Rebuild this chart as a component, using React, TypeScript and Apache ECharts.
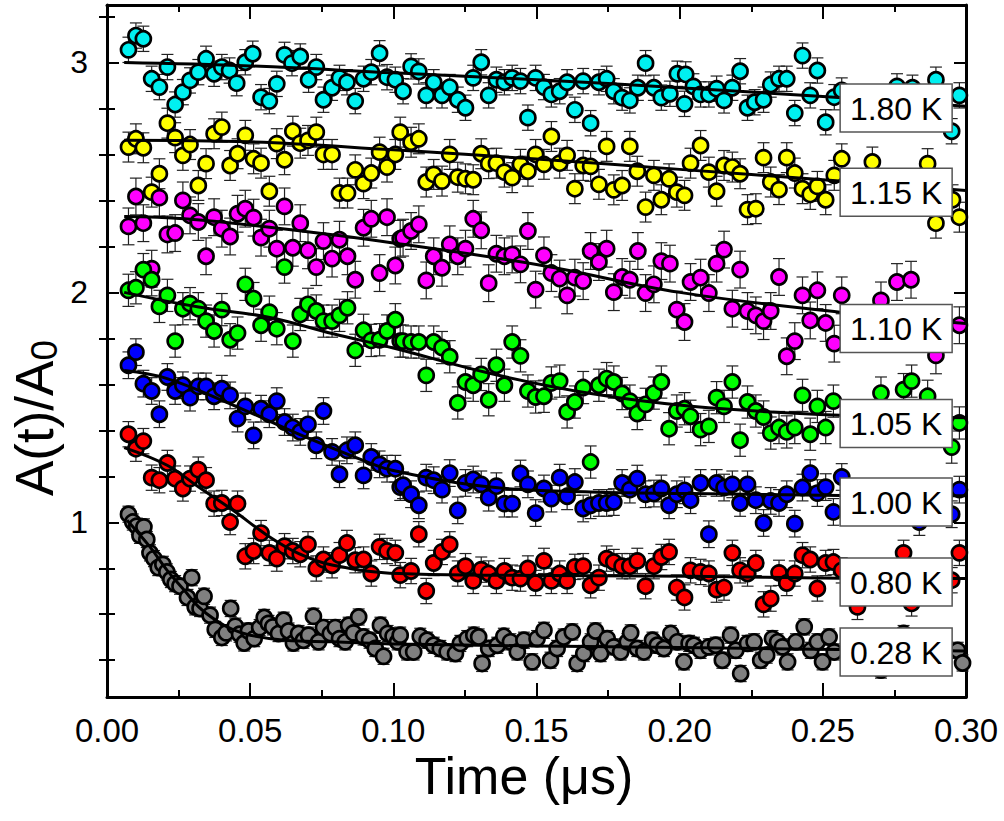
import React, { useEffect, useRef } from "react";
import * as echarts from "echarts";

const FONT = "'Liberation Sans', Arial, Helvetica, sans-serif";

const xMin = 0;
const xMax = 0.3;
const xInterval = 0.05;
const yMin = 0.24;
const yMax = 3.25;
const yMajorTicks = [1, 2, 3];
const yMinorTicks = [0.4, 0.6, 0.8, 1.2, 1.4, 1.6, 1.8, 2.2, 2.4, 2.6, 2.8, 3.2];

const temps = ["1.80 K", "1.15 K", "1.10 K", "1.05 K", "1.00 K", "0.80 K", "0.28 K"];
const colors = ["#00F0F0", "#FFFF00", "#FF00FF", "#00FF00", "#0000FF", "#FF0000", "#808080"];
const errors = [0.055, 0.065, 0.08, 0.07, 0.058, 0.055, 0.035];
const labelX = 0.2756;
const labelY = [2.802, 2.436, 1.843, 1.43, 1.088, 0.74, 0.436];

const pts180 = [
  [0.0075, 3.055], [0.0101, 3.117], [0.0127, 3.103], [0.0156, 2.929], [0.0183, 2.893], [0.0211, 2.98], [0.0238, 2.817], [0.0265, 2.871], [0.029, 2.922], [0.0319, 2.958], [0.0346, 3.016], [0.0374, 2.951], [0.0401, 2.98], [0.0428, 2.965], [0.0453, 2.91], [0.0483, 3.001], [0.0509, 3.038], [0.0538, 2.849], [0.0567, 2.832], [0.0593, 2.907], [0.062, 3.033], [0.0646, 2.997], [0.0675, 3.026], [0.0704, 2.925], [0.0731, 2.98], [0.0756, 2.838], [0.0786, 2.89], [0.0812, 2.933], [0.0838, 2.914], [0.0867, 2.832], [0.0896, 2.929], [0.0923, 2.958], [0.0952, 3.04], [0.0978, 2.936], [0.1007, 2.925],
  [0.1034, 2.875], [0.1062, 2.983], [0.1089, 2.961], [0.1115, 2.857], [0.1141, 2.914], [0.117, 2.857], [0.1197, 2.893], [0.1225, 2.838], [0.1252, 2.803], [0.1279, 2.933], [0.1307, 3.001], [0.1333, 2.857], [0.136, 2.925], [0.1388, 2.914], [0.1415, 2.933], [0.1444, 2.919], [0.147, 2.76], [0.1497, 2.933], [0.1526, 2.893], [0.1552, 2.861], [0.1581, 2.875], [0.1607, 2.914], [0.1634, 2.794], [0.1663, 2.919], [0.1689, 2.736], [0.1718, 2.914], [0.1745, 2.929], [0.177, 2.875], [0.1799, 2.847], [0.1826, 2.835], [0.1854, 2.89], [0.1881, 2.997], [0.191, 2.89], [0.1936, 2.847], [0.1966, 2.864], [0.1992, 2.951], [0.2017, 2.82],
  [0.2021, 2.948], [0.2048, 2.896], [0.2073, 2.861], [0.2102, 2.861], [0.2129, 2.886], [0.2155, 2.835], [0.2184, 2.89], [0.2211, 2.962], [0.2237, 2.803], [0.2262, 2.827], [0.2293, 2.838], [0.2318, 2.904], [0.2347, 2.929], [0.2374, 2.929], [0.2402, 2.78], [0.2429, 3.03], [0.2456, 2.857], [0.2481, 2.965], [0.251, 2.74], [0.254, 2.849], [0.2566, 2.878], [0.2759, 2.896], [0.2813, 2.89], [0.2895, 2.925], [0.295, 2.701], [0.2977, 2.857],
];

const pts115 = [
  [0.0075, 2.632], [0.0101, 2.668], [0.0127, 2.629], [0.0156, 2.436], [0.0183, 2.516], [0.0211, 2.736], [0.0238, 2.673], [0.0265, 2.596], [0.029, 2.643], [0.0319, 2.465], [0.0346, 2.56], [0.0374, 2.69], [0.0401, 2.719], [0.043, 2.552], [0.0456, 2.603], [0.0483, 2.683], [0.0512, 2.581], [0.0538, 2.562], [0.0567, 2.44], [0.0593, 2.647], [0.062, 2.577], [0.0649, 2.701], [0.0675, 2.649], [0.0702, 2.661], [0.0731, 2.697], [0.0756, 2.6], [0.0786, 2.6], [0.0812, 2.432], [0.084, 2.432], [0.0867, 2.533], [0.0896, 2.473], [0.0923, 2.519], [0.0952, 2.61], [0.0978, 2.545], [0.1007, 2.6], [0.1024, 2.697],
  [0.1062, 2.653], [0.1089, 2.668], [0.1115, 2.48], [0.1141, 2.513], [0.117, 2.484], [0.1197, 2.6], [0.1225, 2.501], [0.1252, 2.494], [0.1279, 2.49], [0.1307, 2.603], [0.1333, 2.56], [0.136, 2.562], [0.1388, 2.523], [0.1415, 2.499], [0.1444, 2.557], [0.147, 2.527], [0.1497, 2.6], [0.1526, 2.557], [0.1552, 2.678], [0.1581, 2.562], [0.1607, 2.596], [0.1634, 2.451], [0.1663, 2.552], [0.1689, 2.548], [0.1718, 2.47], [0.1745, 2.635], [0.177, 2.446], [0.1799, 2.465], [0.1826, 2.635], [0.1852, 2.527], [0.1881, 2.371], [0.191, 2.509], [0.1936, 2.403], [0.1963, 2.494], [0.199, 2.436], [0.2017, 2.422], [0.2038, 2.562],
  [0.2073, 2.639], [0.2102, 2.523], [0.2129, 2.44], [0.2155, 2.552], [0.2184, 2.545], [0.2211, 2.516], [0.2237, 2.36], [0.2266, 2.364], [0.2293, 2.586], [0.2318, 2.48], [0.2347, 2.447], [0.2374, 2.586], [0.2402, 2.519], [0.2429, 2.451], [0.2456, 2.426], [0.2481, 2.461], [0.251, 2.403], [0.254, 2.509], [0.2566, 2.581], [0.2673, 2.567], [0.2866, 2.56], [0.2895, 2.301], [0.2953, 2.403], [0.2977, 2.327],
];

const pts110 = [
  [0.0075, 2.287], [0.0101, 2.417], [0.0127, 2.301], [0.0156, 2.103], [0.0183, 2.412], [0.0211, 2.252], [0.0238, 2.258], [0.0265, 2.4], [0.029, 2.335], [0.0319, 2.306], [0.0346, 2.157], [0.0374, 2.327], [0.0401, 2.277], [0.043, 2.243], [0.0456, 2.342], [0.0483, 2.364], [0.0512, 2.325], [0.0538, 2.238], [0.0567, 2.277], [0.0593, 2.19], [0.062, 2.374], [0.0649, 2.194], [0.0675, 2.301], [0.0702, 2.183], [0.0731, 2.11], [0.0756, 2.223], [0.0786, 2.147], [0.0812, 2.229], [0.084, 2.157], [0.0867, 2.055], [0.0896, 2.281], [0.0923, 2.32], [0.0952, 2.084], [0.0978, 2.327], [0.1007, 2.117], [0.1024, 2.233],
  [0.1034, 2.238], [0.1062, 2.267], [0.1089, 2.296], [0.1115, 2.052], [0.1141, 2.157], [0.117, 2.107], [0.1197, 2.209], [0.1225, 2.157], [0.1252, 2.19], [0.1279, 2.32], [0.1307, 2.27], [0.1333, 2.04], [0.136, 2.168], [0.1388, 2.157], [0.1415, 2.165], [0.1444, 2.122], [0.147, 2.267], [0.1497, 2.012], [0.1526, 2.161], [0.1552, 2.084], [0.1581, 2.06], [0.1607, 1.987], [0.1634, 2.064], [0.1663, 2.049], [0.1689, 2.18], [0.1718, 2.132], [0.1745, 2.19], [0.177, 2.001], [0.1799, 2.067], [0.1826, 2.055], [0.1854, 2.18], [0.1881, 1.997], [0.191, 2.035], [0.1936, 2.136], [0.1966, 2.125], [0.199, 1.925], [0.2017, 1.871], [0.2038, 2.045],
  [0.2073, 2.064], [0.2102, 1.997], [0.2129, 2.125], [0.2155, 2.186], [0.2184, 1.929], [0.2211, 2.099], [0.2237, 1.919], [0.2266, 1.9], [0.2293, 1.875], [0.2318, 1.919], [0.2347, 2.067], [0.2374, 1.722], [0.2402, 1.788], [0.2429, 1.987], [0.2456, 1.878], [0.2481, 2.009], [0.251, 1.867], [0.254, 1.777], [0.2566, 1.987], [0.2703, 1.965], [0.2759, 2.045], [0.2808, 2.055], [0.2895, 1.726], [0.2977, 1.857],
];

const pts105 = [
  [0.0075, 2.009], [0.0101, 2.02], [0.0127, 2.099], [0.0156, 2.055], [0.0183, 1.939], [0.0211, 1.987], [0.0238, 1.788], [0.0265, 1.929], [0.029, 1.951], [0.0319, 1.929], [0.0346, 1.875], [0.0374, 1.832], [0.0401, 1.925], [0.043, 1.794], [0.0456, 1.823], [0.0483, 2.035], [0.0512, 1.973], [0.0538, 1.857], [0.0567, 1.914], [0.0593, 1.842], [0.062, 2.11], [0.0649, 1.788], [0.0675, 1.904], [0.0702, 1.948], [0.0731, 1.919], [0.0756, 1.875], [0.0786, 1.875], [0.0812, 1.9], [0.084, 1.933], [0.0867, 1.748], [0.0896, 1.835], [0.0923, 1.791], [0.0952, 1.794], [0.0978, 1.832], [0.1007, 1.881], [0.1024, 1.788],
  [0.1034, 1.788], [0.1062, 1.784], [0.1089, 1.784], [0.1115, 1.639], [0.1141, 1.784], [0.117, 1.76], [0.1197, 1.72], [0.1225, 1.519], [0.1252, 1.61], [0.1279, 1.596], [0.1307, 1.643], [0.1333, 1.533], [0.136, 1.683], [0.1388, 1.596], [0.1415, 1.784], [0.1444, 1.724], [0.147, 1.571], [0.1497, 1.545], [0.1526, 1.548], [0.1552, 1.606], [0.1581, 1.614], [0.1607, 1.48], [0.1634, 1.523], [0.1663, 1.586], [0.1689, 1.262], [0.1718, 1.596], [0.1745, 1.625], [0.177, 1.61], [0.1799, 1.56], [0.1826, 1.527], [0.1852, 1.473], [0.1881, 1.513], [0.191, 1.562], [0.1936, 1.61], [0.1963, 1.407], [0.199, 1.484], [0.2017, 1.494], [0.2038, 1.461],
  [0.2073, 1.403], [0.2102, 1.417], [0.2129, 1.542], [0.2155, 1.504], [0.2184, 1.61], [0.2211, 1.357], [0.2237, 1.523], [0.2266, 1.484], [0.2293, 1.458], [0.2318, 1.388], [0.2347, 1.412], [0.2374, 1.393], [0.2402, 1.412], [0.2429, 1.552], [0.2456, 1.383], [0.2481, 1.504], [0.251, 1.412], [0.2537, 1.527], [0.2703, 1.562], [0.2782, 1.577], [0.281, 1.614], [0.2866, 1.548], [0.295, 1.327], [0.2977, 1.432],
];

const pts100 = [
  [0.0075, 1.683], [0.0101, 1.74], [0.0127, 1.603], [0.0156, 1.571], [0.0183, 1.47], [0.0211, 1.632], [0.0238, 1.571], [0.0265, 1.596], [0.029, 1.542], [0.0319, 1.591], [0.0346, 1.591], [0.0374, 1.548], [0.0401, 1.581], [0.043, 1.552], [0.0456, 1.451], [0.0483, 1.504], [0.0512, 1.378], [0.0538, 1.494], [0.0567, 1.47], [0.0593, 1.527], [0.062, 1.436], [0.0649, 1.412], [0.0675, 1.393], [0.0702, 1.426], [0.0731, 1.335], [0.0756, 1.484], [0.0786, 1.306], [0.0812, 1.209], [0.0838, 1.313], [0.0867, 1.335], [0.0896, 1.204], [0.0923, 1.284], [0.0952, 1.252], [0.0978, 1.233], [0.1007, 1.233], [0.1024, 1.153],
  [0.1034, 1.161], [0.1062, 1.122], [0.1089, 1.074], [0.1115, 1.194], [0.1141, 1.183], [0.117, 1.142], [0.1197, 1.214], [0.1225, 1.052], [0.1252, 1.171], [0.1279, 1.186], [0.1307, 1.165], [0.1333, 1.107], [0.136, 1.157], [0.1388, 1.081], [0.1415, 1.081], [0.1444, 1.212], [0.147, 1.165], [0.1497, 1.04], [0.1526, 1.147], [0.1552, 1.103], [0.1581, 1.194], [0.1607, 1.113], [0.1634, 1.175], [0.1663, 1.06], [0.1689, 1.074], [0.1718, 1.084], [0.1745, 1.084], [0.177, 1.088], [0.1799, 1.171], [0.1826, 1.142], [0.1852, 1.19], [0.1881, 1.122], [0.191, 1.125], [0.1936, 1.147], [0.1963, 1.074], [0.199, 1.122], [0.2017, 1.139], [0.2038, 1.096],
  [0.2073, 1.171], [0.2102, 0.948], [0.2129, 1.171], [0.2155, 1.151], [0.2184, 1.165], [0.2211, 1.084], [0.2237, 1.165], [0.2266, 1.096], [0.2293, 0.997], [0.2318, 1.093], [0.2347, 1.084], [0.2374, 1.122], [0.2402, 0.994], [0.2429, 1.151], [0.2456, 1.214], [0.2481, 1.127], [0.251, 1.153], [0.2537, 1.045], [0.2566, 1.197], [0.2837, 1.001], [0.295, 1.035], [0.2977, 1.142],
];

const pts080 = [
  [0.0075, 1.383], [0.0101, 1.32], [0.0127, 1.353], [0.0156, 1.194], [0.0183, 1.183], [0.0211, 1.258], [0.0238, 1.19], [0.0265, 1.147], [0.029, 1.19], [0.0319, 1.229], [0.0346, 1.183], [0.0374, 1.081], [0.0401, 1.084], [0.043, 1.001], [0.0456, 1.081], [0.0483, 0.852], [0.0512, 0.875], [0.0538, 0.953], [0.0567, 0.867], [0.0593, 0.842], [0.062, 0.896], [0.0649, 0.875], [0.0675, 0.861], [0.0702, 0.904], [0.0731, 0.799], [0.0756, 0.838], [0.0786, 0.813], [0.0812, 0.857], [0.0838, 0.91], [0.0867, 0.835], [0.0896, 0.838], [0.0923, 0.777], [0.0952, 0.893], [0.0978, 0.875], [0.1007, 0.867], [0.1024, 0.77],
  [0.1062, 0.788], [0.1089, 0.948], [0.1115, 0.701], [0.1141, 0.823], [0.117, 0.871], [0.1197, 0.904], [0.1225, 0.777], [0.1252, 0.809], [0.1279, 0.745], [0.1307, 0.794], [0.1333, 0.777], [0.136, 0.745], [0.1388, 0.788], [0.1415, 0.759], [0.1444, 0.755], [0.147, 0.799], [0.1497, 0.736], [0.1526, 0.832], [0.1552, 0.745], [0.1581, 0.777], [0.1607, 0.745], [0.1634, 0.806], [0.1663, 0.809], [0.1689, 0.726], [0.1718, 0.759], [0.1745, 0.842], [0.177, 0.827], [0.1799, 0.809], [0.1826, 0.809], [0.1852, 0.832], [0.1881, 0.722], [0.191, 0.809], [0.1936, 0.849], [0.1963, 0.871], [0.199, 0.716], [0.2017, 0.673], [0.2038, 0.791],
  [0.2073, 0.784], [0.2102, 0.777], [0.2129, 0.707], [0.2155, 0.716], [0.2184, 0.867], [0.2211, 0.791], [0.2237, 0.777], [0.2266, 0.823], [0.2293, 0.643], [0.2318, 0.668], [0.2347, 0.78], [0.2374, 0.736], [0.2402, 0.777], [0.2429, 0.857], [0.2456, 0.838], [0.2481, 0.712], [0.251, 0.823], [0.2537, 0.827], [0.2566, 0.791], [0.2621, 0.632], [0.2782, 0.867], [0.281, 0.647], [0.295, 0.748], [0.2977, 0.867],
];

const pts028 = [
  [0.0075, 1.035], [0.009, 1.001], [0.0104, 0.983], [0.0115, 0.943], [0.0129, 0.98], [0.0139, 0.925], [0.015, 0.867], [0.0164, 0.842], [0.0179, 0.803], [0.0195, 0.817], [0.0209, 0.784], [0.0223, 0.751], [0.0238, 0.733], [0.0255, 0.722], [0.0281, 0.673], [0.0296, 0.759], [0.0308, 0.632], [0.0325, 0.625], [0.0339, 0.678], [0.036, 0.596], [0.0378, 0.534], [0.0401, 0.499], [0.0416, 0.519], [0.0432, 0.625], [0.0448, 0.548], [0.0463, 0.513], [0.0479, 0.475], [0.0494, 0.527], [0.0514, 0.494], [0.0533, 0.542], [0.0549, 0.586], [0.0564, 0.56], [0.0579, 0.545], [0.0599, 0.516], [0.0617, 0.574], [0.0634, 0.527], [0.0651, 0.475], [0.0669, 0.516], [0.0686, 0.487], [0.0704, 0.509], [0.0721, 0.591], [0.0739, 0.48], [0.0756, 0.542], [0.078, 0.516], [0.0797, 0.542], [0.0812, 0.494], [0.0832, 0.48], [0.0844, 0.552], [0.0861, 0.519], [0.0879, 0.588], [0.0896, 0.501], [0.0917, 0.487], [0.0937, 0.451], [0.0955, 0.552], [0.0966, 0.417], [0.098, 0.516], [0.0999, 0.504], [0.1015, 0.48],
  [0.1024, 0.509], [0.1048, 0.436], [0.1071, 0.436], [0.1094, 0.504], [0.1118, 0.487], [0.1141, 0.465], [0.1164, 0.451], [0.1188, 0.436], [0.1217, 0.429], [0.1234, 0.473], [0.1258, 0.494], [0.1281, 0.509], [0.1298, 0.501], [0.131, 0.386], [0.1333, 0.451], [0.1363, 0.465], [0.1386, 0.504], [0.1409, 0.48], [0.1433, 0.436], [0.1456, 0.487], [0.1485, 0.393], [0.1502, 0.494], [0.1526, 0.53], [0.1549, 0.4], [0.1572, 0.451], [0.1595, 0.501], [0.1625, 0.523], [0.1642, 0.386], [0.1665, 0.429], [0.1689, 0.48], [0.1706, 0.527], [0.1724, 0.429], [0.1747, 0.494], [0.177, 0.458], [0.1794, 0.436], [0.1817, 0.48], [0.1829, 0.519], [0.1852, 0.451], [0.1875, 0.436], [0.1905, 0.487], [0.1922, 0.465], [0.1945, 0.451], [0.1969, 0.516], [0.1992, 0.48], [0.2015, 0.393], [0.2033, 0.473],
  [0.205, 0.465], [0.2073, 0.443], [0.2102, 0.458], [0.2126, 0.465], [0.2149, 0.4], [0.2178, 0.509], [0.2196, 0.443], [0.2213, 0.342], [0.2237, 0.473], [0.226, 0.48], [0.2283, 0.4], [0.2304, 0.422], [0.2324, 0.494], [0.2342, 0.48], [0.2359, 0.458], [0.2377, 0.393], [0.2406, 0.48], [0.2435, 0.545], [0.2458, 0.443], [0.2481, 0.48], [0.2499, 0.393], [0.2522, 0.501], [0.254, 0.436], [0.2703, 0.357], [0.2782, 0.516], [0.2866, 0.4], [0.2971, 0.443], [0.2988, 0.388],
];

const fit180 = [[0.006, 3.0], [0.05, 2.985], [0.1, 2.955], [0.15, 2.925], [0.2, 2.89], [0.25, 2.852], [0.3, 2.81]];
const fit115 = [[0.006, 2.662], [0.05, 2.655], [0.1, 2.62], [0.15, 2.58], [0.2, 2.535], [0.25, 2.49], [0.3, 2.443]];
const fit110 = [[0.006, 2.33], [0.027, 2.32], [0.056, 2.284], [0.1, 2.215], [0.152, 2.117], [0.2, 2.0], [0.256, 1.914], [0.3, 1.865]];
const fit105 = [[0.006, 2.0], [0.032, 1.936], [0.056, 1.893], [0.079, 1.82], [0.1, 1.758], [0.134, 1.647], [0.169, 1.56], [0.204, 1.505], [0.256, 1.465], [0.3, 1.455]];
const fit100 = [[0.006, 1.66], [0.021, 1.625], [0.044, 1.51], [0.068, 1.378], [0.091, 1.262], [0.1, 1.225], [0.134, 1.153], [0.169, 1.132], [0.204, 1.125], [0.256, 1.117], [0.3, 1.115]];
const fit080 = [[0.006, 1.325], [0.021, 1.248], [0.032, 1.153], [0.044, 1.052], [0.056, 0.943], [0.067, 0.864], [0.079, 0.813], [0.102, 0.777], [0.134, 0.77], [0.204, 0.765], [0.256, 0.757], [0.3, 0.755]];
const fit028 = [[0.007, 1.009], [0.015, 0.893], [0.021, 0.791], [0.027, 0.704], [0.032, 0.632], [0.038, 0.574], [0.044, 0.533], [0.05, 0.509], [0.062, 0.487], [0.079, 0.48], [0.102, 0.47], [0.2, 0.455], [0.3, 0.44]];

const allPoints = [pts180, pts115, pts110, pts105, pts100, pts080, pts028];
const allFits = [fit180, fit115, fit110, fit105, fit100, fit080, fit028];

function buildOption() {
  const series: any[] = [];
  allPoints.forEach((pts, i) => {
    series.push({
      type: "custom",
      name: temps[i] + " err",
      xAxisIndex: 0,
      yAxisIndex: 0,
      z: 1,
      silent: true,
      encode: { x: 0, y: 1 },
      data: pts.map((p) => [p[0], p[1], errors[i]]),
      renderItem: (params: any, api: any) => {
        const x = api.value(0);
        const y = api.value(1);
        const e = api.value(2);
        const top = api.coord([x, y + e]);
        const bot = api.coord([x, y - e]);
        const w = 6;
        const st = { stroke: "#222", lineWidth: 1.2 };
        return {
          type: "group",
          children: [
            { type: "line", shape: { x1: top[0], y1: top[1], x2: bot[0], y2: bot[1] }, style: st },
            { type: "line", shape: { x1: top[0] - w, y1: top[1], x2: top[0] + w, y2: top[1] }, style: st },
            { type: "line", shape: { x1: bot[0] - w, y1: bot[1], x2: bot[0] + w, y2: bot[1] }, style: st },
          ],
        };
      },
    });
  });
  allPoints.forEach((pts, i) => {
    series.push({
      type: "scatter",
      name: temps[i],
      xAxisIndex: 0,
      yAxisIndex: 0,
      z: 2,
      silent: true,
      symbol: "circle",
      symbolSize: 15,
      itemStyle: { color: colors[i], borderColor: "#000", borderWidth: 2.7, opacity: 1 },
      data: pts,
    });
  });
  allFits.forEach((fit, i) => {
    series.push({
      type: "line",
      name: temps[i] + " fit",
      xAxisIndex: 0,
      yAxisIndex: 0,
      z: 3,
      silent: true,
      smooth: 0.4,
      symbol: "none",
      lineStyle: { color: "#000", width: 3 },
      data: fit,
    });
  });
  series.push({
    type: "custom",
    name: "labels",
    xAxisIndex: 0,
    yAxisIndex: 0,
    z: 10,
    silent: true,
    clip: false,
    encode: { x: 0, y: 1 },
    data: temps.map((t, i) => [labelX, labelY[i], i]),
    renderItem: (params: any, api: any) => {
      const c = api.coord([api.value(0), api.value(1)]);
      const idx = api.value(2);
      const w = 112;
      const h = 48;
      return {
        type: "group",
        children: [
          {
            type: "rect",
            shape: { x: c[0] - w / 2, y: c[1] - h / 2, width: w, height: h },
            style: { fill: "#fff", stroke: "#555", lineWidth: 1.5 },
          },
          {
            type: "text",
            x: c[0],
            y: c[1] + 1,
            style: {
              text: temps[idx],
              fontFamily: FONT,
              fontSize: 32,
              fill: "#000",
              align: "center",
              verticalAlign: "middle",
            },
          },
        ],
      };
    },
  });

  const xBase = {
    type: "value",
    min: xMin,
    max: xMax,
    interval: xInterval,
    splitLine: { show: false },
    axisLine: { show: true, onZero: false, lineStyle: { color: "#000", width: 3 } },
    axisTick: { show: true, inside: true, length: 14, lineStyle: { color: "#000", width: 2 } },
    minorTick: { show: true, splitNumber: 2, length: 7, lineStyle: { color: "#000", width: 2 } },
    minorSplitLine: { show: false },
  };

  const yMajor = (pos: string) => ({
    type: "value",
    position: pos,
    min: yMin,
    max: yMax,
    splitLine: { show: false },
    axisLine: { show: true, onZero: false, lineStyle: { color: "#000", width: 3 } },
    axisTick: { show: true, inside: true, length: 12, customValues: yMajorTicks, lineStyle: { color: "#000", width: 2 } },
    axisLabel:
      pos === "left"
        ? { show: true, customValues: yMajorTicks, fontFamily: FONT, fontSize: 32, color: "#000", margin: 19, formatter: (v: number) => String(Math.round(v)) }
        : { show: false },
  });
  const yMinor = (pos: string) => ({
    type: "value",
    position: pos,
    min: yMin,
    max: yMax,
    splitLine: { show: false },
    axisLine: { show: false },
    axisTick: { show: true, inside: true, length: 8, customValues: yMinorTicks, lineStyle: { color: "#000", width: 2 } },
    axisLabel: { show: false },
  });

  return {
    animation: false,
    backgroundColor: "#fff",
    grid: { left: 107, top: 5, width: 859, height: 692, containLabel: false },
    xAxis: [
      {
        ...xBase,
        position: "bottom",
        axisLabel: { show: true, fontFamily: FONT, fontSize: 33, lineHeight: 28, color: "#000", margin: 19, formatter: (v: number) => v.toFixed(2) },
      },
      { ...xBase, position: "top", axisLabel: { show: false } },
    ],
    yAxis: [yMajor("left"), yMajor("right"), yMinor("left"), yMinor("right")],
    graphic: [
      {
        type: "text",
        x: 524,
        y: 776,
        style: { text: "Time (μs)", fontFamily: FONT, fontSize: 52, lineHeight: 50, fill: "#000", align: "center", verticalAlign: "middle" },
      },
      {
        type: "text",
        x: 34,
        y: 418,
        rotation: Math.PI / 2,
        style: {
          text: "{a|A(t)/A}{s|0}",
          align: "center",
          verticalAlign: "middle",
          rich: {
            a: { fontFamily: FONT, fontSize: 53, fill: "#000", color: "#000" },
            s: { fontFamily: FONT, fontSize: 37, fill: "#000", color: "#000", padding: [20, 0, 0, 0] },
          },
        },
      },
    ],
    series,
  };
}

export default function App() {
  const ref = useRef<HTMLDivElement>(null);
  useEffect(() => {
    if (!ref.current) return;
    const chart = echarts.init(ref.current, null, { renderer: "svg" });
    chart.setOption(buildOption() as any);
    return () => chart.dispose();
  }, []);
  return <div ref={ref} style={{ position: "fixed", left: 0, top: 0, width: 1004, height: 821, background: "#fff" }} />;
}
